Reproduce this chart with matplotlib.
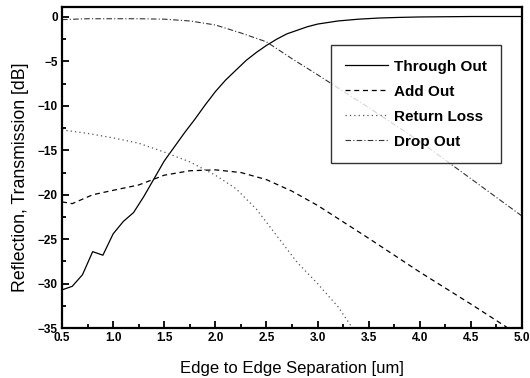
import matplotlib
matplotlib.use('Agg')
from matplotlib import pyplot as plt
from matplotlib.ticker import MultipleLocator

plt.rcParams['font.family'] = ['Liberation Sans', 'DejaVu Sans']

# Through Out (solid)
x_through = [0.5, 0.6, 0.7, 0.8, 0.9, 1.0, 1.1, 1.2, 1.3, 1.4, 1.5, 1.6, 1.7, 1.8, 1.9,
             2.0, 2.1, 2.2, 2.3, 2.4, 2.5, 2.6, 2.7, 2.8, 2.9, 3.0, 3.2, 3.4, 3.6, 3.8,
             4.0, 4.5, 5.0]
y_through = [-30.7, -30.3, -29.0, -26.4, -26.8, -24.4, -23.0, -22.0, -20.2, -18.2, -16.2,
             -14.6, -13.0, -11.5, -9.9, -8.4, -7.1, -6.0, -4.9, -4.0, -3.2, -2.5, -1.9,
             -1.5, -1.1, -0.8, -0.45, -0.25, -0.12, -0.05, 0.0, 0.05, 0.05]

# Add Out (dashed)
x_add = [0.5, 0.6, 0.8, 1.0, 1.25, 1.5, 1.75, 2.0, 2.25, 2.5, 2.75, 3.0, 3.5, 4.0, 4.5, 4.85]
y_add = [-20.8, -21.0, -20.0, -19.5, -18.9, -17.8, -17.3, -17.2, -17.5, -18.3, -19.6,
         -21.2, -24.9, -28.7, -32.3, -34.9]

# Return Loss (dotted)
x_ret = [0.5, 0.75, 1.0, 1.25, 1.5, 1.75, 2.0, 2.2, 2.4, 2.6, 2.8, 3.0, 3.2, 3.33]
y_ret = [-12.7, -13.1, -13.6, -14.2, -15.2, -16.3, -17.8, -19.3, -21.6, -24.6, -27.6,
         -30.0, -32.6, -34.8]

# Drop Out (dash-dot)
x_drop = [0.5, 0.75, 1.0, 1.25, 1.5, 1.75, 2.0, 2.25, 2.5, 2.75, 3.0, 3.5, 4.0, 4.5, 5.0]
y_drop = [-0.3, -0.2, -0.2, -0.2, -0.25, -0.45, -0.9, -1.8, -2.8, -4.7, -6.5, -10.2,
          -14.0, -18.2, -22.4]

fig = plt.figure(figsize=(5.3, 3.78), dpi=100)
ax = fig.add_axes([0.117, 0.132, 0.868, 0.849])

ax.plot(x_through, y_through, '-', color='black', lw=0.9, label='Through Out')
ax.plot(x_add, y_add, color='black', lw=0.9, ls=(0, (4, 3)), label='Add Out')
ax.plot(x_ret, y_ret, color='#555555', lw=0.9, ls=(0, (1, 2.5)), label='Return Loss')
ax.plot(x_drop, y_drop, color='#333333', lw=0.8, ls=(0, (5, 2, 1, 2)), label='Drop Out')

ax.set_xlim(0.5, 5.0)
ax.set_ylim(-35, 1.1)
ax.xaxis.set_major_locator(MultipleLocator(0.5))
ax.xaxis.set_minor_locator(MultipleLocator(0.25))
ax.yaxis.set_major_locator(MultipleLocator(5))
ax.yaxis.set_minor_locator(MultipleLocator(2.5))
ax.tick_params(which='both', direction='in', width=1.3)
ax.tick_params(which='major', length=5, labelsize=8.5, pad=3)
ax.tick_params(which='minor', length=3)
for lab in ax.get_xticklabels() + ax.get_yticklabels():
    lab.set_fontweight('bold')
for s in ax.spines.values():
    s.set_linewidth(1.6)

ax.set_xlabel('Edge to Edge Separation [um]', fontsize=12, labelpad=12)
ax.set_ylabel('Reflection, Transmission [dB]', fontsize=12.8, labelpad=6)
ax.yaxis.label.set_y(0.47)

leg = ax.legend(loc='upper right', bbox_to_anchor=(0.955, 0.882), frameon=True,
                fancybox=False, edgecolor='black', handlelength=2.8,
                prop={'size': 11, 'weight': 'bold'}, borderpad=0.95, labelspacing=0.72,
                handletextpad=0.4, borderaxespad=0)
leg.get_frame().set_linewidth(1.0)

fig.savefig('out.png', dpi=100)
